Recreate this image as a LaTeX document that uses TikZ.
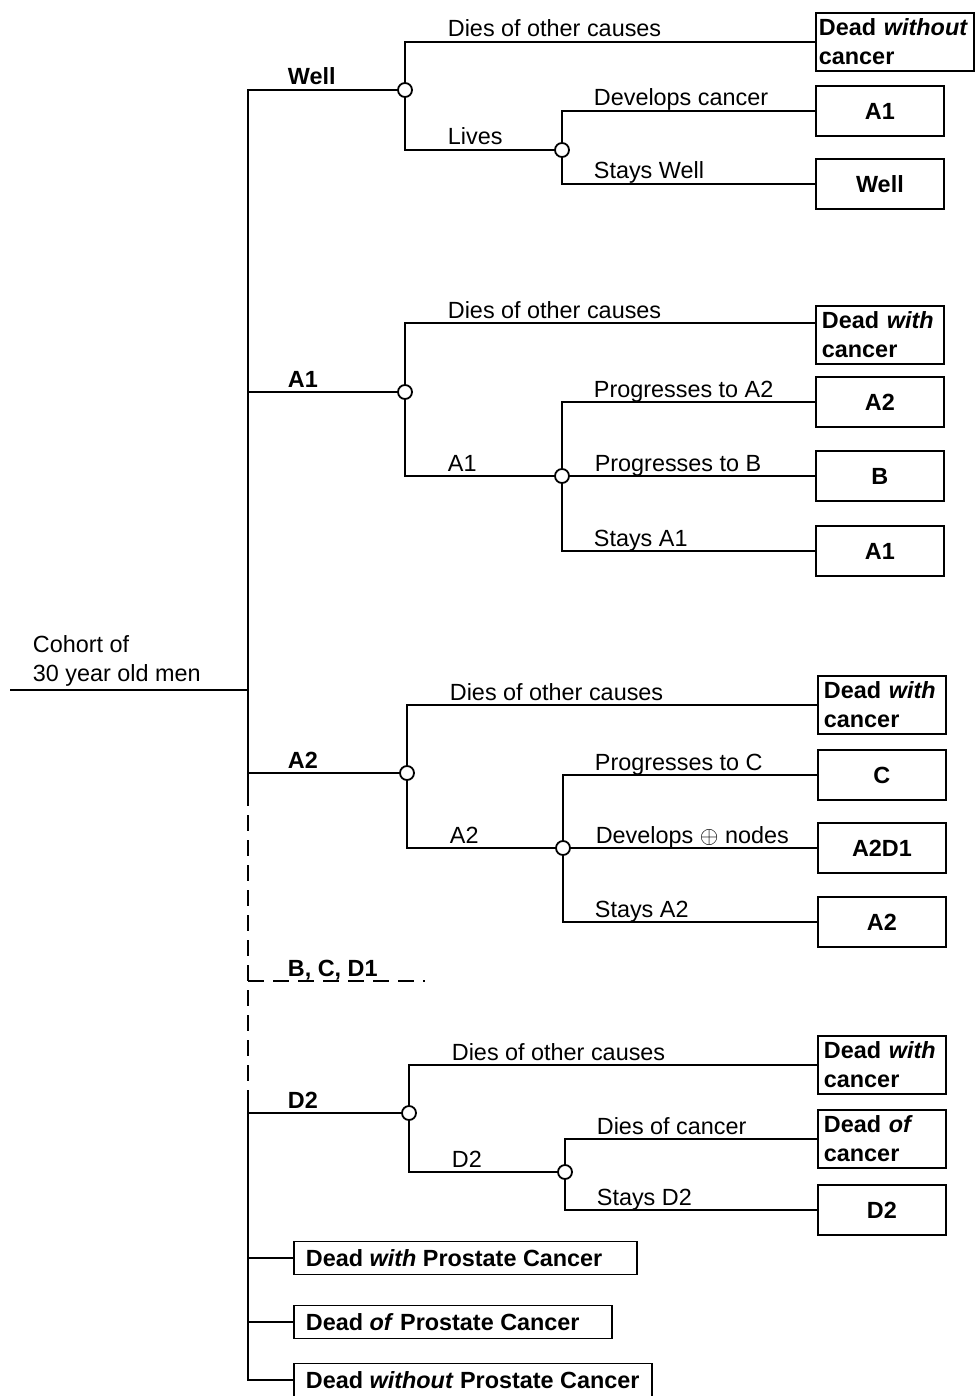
\documentclass[tikz,border=0pt]{standalone}
\usepackage{fontspec}
\setmainfont{Liberation Sans}
\usepackage{tikz}
\usetikzlibrary{positioning,calc}
\newcommand{\treefont}{\fontsize{11.7}{14.5}\selectfont}

\begin{document}
\begin{tikzpicture}[x=0.5pt,y=-0.5pt,line width=0.9pt,
    every node/.style={font=\treefont},
    chance/.style={circle,draw,fill=white,inner sep=0pt,minimum size=7pt},
    outbox/.style={draw,anchor=west,font=\treefont\bfseries,minimum width=64pt,minimum height=25pt,inner sep=2pt},
    outbox2/.style={outbox,align=left,text width=58pt,inner xsep=3pt,inner ysep=1.5pt,minimum height=29pt},
    endbox/.style={draw,anchor=west,font=\treefont\bfseries,inner xsep=6pt,inner ysep=0pt,minimum height=16.5pt},
    lbl/.style={anchor=base west,yshift=2.5pt,inner sep=0pt},
    lbla/.style={lbl,xshift=19.5pt,font=\treefont\bfseries},
    lblb/.style={lbl,xshift=21pt},
    lblc/.style={lbl,xshift=15.5pt},
    brokenline/.style={dash pattern=on 8pt off 4.5pt}]
  \useasboundingbox (0,0) rectangle (974,1396);

  % the cohort and the trunk
  \coordinate (start) at (10,690);
  \coordinate (root) at (248,690);
  \coordinate (trk1) at (248,790);
  \coordinate (trk2) at (248,1092);
  \coordinate (bcd) at (425,981);
  \node[anchor=south west,align=left,inner sep=0pt,xshift=11pt,yshift=1.5pt] (cohort) at (start) {Cohort of\\30 year old men};
  \draw (start) -- (root);

  % Well
  \node[chance] (cw) at (405,90) {};
  \node[chance] (cwl) at (562,150) {};
  \node[outbox2,text width=76pt,inner xsep=1.5pt] (wdw) at (815,42) {Dead \textit{without}\\cancer};
  \node[outbox] (wa1) at (815,111) {A1};
  \node[outbox] (wwl) at (815,184) {Well};
  \draw (root) |- node[lbla] {Well} (cw);
  \draw (cw) |- node[lblb] {Dies of other causes} (wdw.west);
  \draw (cw) |- node[lblb] {Lives} (cwl);
  \draw (cwl) |- node[lblc] {Develops cancer} (wa1.west);
  \draw (cwl) |- node[lblc] {Stays Well} (wwl.west);

  % A1
  \node[chance] (ca1) at (405,392) {};
  \node[chance] (ca1s) at (562,476) {};
  \node[outbox2] (adw) at (815,335) {Dead \textit{with}\\cancer};
  \node[outbox] (aa2) at (815,402) {A2};
  \node[outbox] (ab) at (815,476) {B};
  \node[outbox] (aa1) at (815,551) {A1};
  \draw (root) |- node[lbla] {A1} (ca1);
  \draw (ca1) |- node[lblb] {Dies of other causes} ([yshift=6pt]adw.west);
  \draw (ca1) |- node[lblb] {A1} (ca1s);
  \draw (ca1s) |- node[lblc] {Progresses to A2} (aa2.west);
  \draw (ca1s) -- node[lblc,pos=0,xshift=-3.5pt] {Progresses to B} (ab.west);
  \draw (ca1s) |- node[lblc] {Stays A1} (aa1.west);

  % A2
  \node[chance] (ca2) at (407,773) {};
  \node[chance] (ca2s) at (563,848) {};
  \node[outbox2] (bdw) at (817,705) {Dead \textit{with}\\cancer};
  \node[outbox] (bc) at (817,775) {C};
  \node[outbox] (bd1) at (817,848) {A2D1};
  \node[outbox] (ba2) at (817,922) {A2};
  \draw (root) |- node[lbla] {A2} (ca2);
  \draw (ca2) |- node[lblb] {Dies of other causes} (bdw.west);
  \draw (ca2) |- node[lblb] {A2} (ca2s);
  \draw (ca2s) |- node[lblc] {Progresses to C} (bc.west);
  \draw (ca2s) -- node[lblc,pos=0,xshift=-3.5pt] {Develops $\oplus$ nodes} (bd1.west);
  \draw (ca2s) |- node[lblc] {Stays A2} (ba2.west);

  % B, C, D1 (broken)
  \draw (root |- ca2) -- (trk1);
  \draw[brokenline] (trk1) -- (trk2);
  \draw[brokenline] (trk1 |- bcd) -- node[lbla,pos=0] {B, C, D1} (bcd);

  % D2
  \node[chance] (cd2) at (409,1113) {};
  \node[chance] (cd2s) at (565,1172) {};
  \node[outbox2] (ddw) at (817,1065) {Dead \textit{with}\\cancer};
  \node[outbox2] (ddc) at (817,1139) {Dead \textit{of}\\cancer};
  \node[outbox] (dd2) at (817,1210) {D2};
  \draw (trk2) |- node[lbla] {D2} (cd2);
  \draw (cd2) |- node[lblb] {Dies of other causes} (ddw.west);
  \draw (cd2) |- node[lblb] {D2} (cd2s);
  \draw (cd2s) |- node[lblc] {Dies of cancer} (ddc.west);
  \draw (cd2s) |- node[lblc] {Stays D2} (dd2.west);

  % absorbing states
  \node[endbox] (ewp) at (293,1258) {\makebox[159.5pt][l]{Dead \textit{with} Prostate Cancer}};
  \node[endbox] (eop) at (293,1322) {\makebox[147pt][l]{Dead \textit{of} Prostate Cancer}};
  \node[endbox] (ewop) at (293,1380) {\makebox[167pt][l]{Dead \textit{without} Prostate Cancer}};
  \draw (trk2) |- (ewp.west);
  \draw (trk2) |- (eop.west);
  \draw (trk2) |- (ewop.west);
\end{tikzpicture}
\end{document}
